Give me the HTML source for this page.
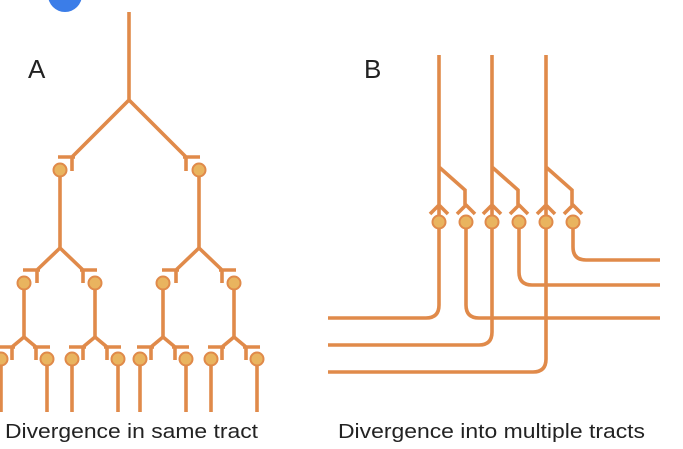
<!DOCTYPE html>
<html><head><meta charset="utf-8"><style>
html,body{margin:0;padding:0;background:#fff;width:683px;height:449px;overflow:hidden}
svg{display:block}
</style></head><body>
<svg width="683" height="449" viewBox="0 0 683 449" xmlns="http://www.w3.org/2000/svg">
<circle cx="65" cy="-5" r="17" fill="#3b7de8"/>
<g font-family="Liberation Sans, sans-serif" fill="#222">
<text x="28" y="78" font-size="26">A</text>
<text x="364" y="78" font-size="26">B</text>
<text x="5" y="438" font-size="20" textLength="253" lengthAdjust="spacingAndGlyphs">Divergence in same tract</text>
<text x="338" y="438" font-size="20" textLength="307" lengthAdjust="spacingAndGlyphs">Divergence into multiple tracts</text>
</g>
<g stroke="#e08a4a" stroke-width="3.6" fill="none" stroke-linecap="butt">
<path d="M129 12V100 M129 100L72 157 M129 100L186 157 M58 157H75 M72 157V171 M183 157H200 M186 157V171 M60 176V248 M199 176V248"/>
<path d="M60 248L37 270 M60 248L83 270 M23 270H40 M37 270V283 M80 270H97 M83 270V283
M199 248L176 270 M199 248L222 270 M162 270H179 M176 270V283 M219 270H236 M222 270V283
M24 289V337 M95 289V337 M163 289V337 M234 289V337"/>
<path d="M24 337L12 347 M24 337L36 347 M-2 347H15 M12 347V360 M33 347H50 M36 347V360
M95 337L83 347 M95 337L107 347 M69 347H86 M83 347V360 M104 347H121 M107 347V360
M163 337L151 347 M163 337L175 347 M137 347H154 M151 347V360 M172 347H189 M175 347V360
M234 337L222 347 M234 337L246 347 M208 347H225 M222 347V360 M243 347H260 M246 347V360
M1 365V412 M47 365V412 M72 365V412 M118 365V412 M140 365V412 M186 365V412 M211 365V412 M257 365V412"/>
<path d="M439 55V305Q439 318 426 318H328
M492 55V332Q492 345 479 345H328
M546 55V359Q546 372 533 372H328
M439 167L465 190V205 M492 167L518 190V205 M546 167L572 190V205
M466 228V305Q466 318 479 318H660
M519 228V272Q519 285 532 285H660
M573 228V247Q573 260 586 260H660
M430 214L439 205L448 214 M457 214L466 205L475 214 M483 214L492 205L501 214
M510 214L519 205L528 214 M537 214L546 205L555 214 M564 214L573 205L582 214"/>
</g>
<g fill="#e9b45f" stroke="#e08a4a" stroke-width="2">
<circle cx="60" cy="170" r="6.5"/><circle cx="199" cy="170" r="6.5"/>
<circle cx="24" cy="283" r="6.5"/><circle cx="95" cy="283" r="6.5"/><circle cx="163" cy="283" r="6.5"/><circle cx="234" cy="283" r="6.5"/>
<circle cx="1" cy="359" r="6.5"/><circle cx="47" cy="359" r="6.5"/><circle cx="72" cy="359" r="6.5"/><circle cx="118" cy="359" r="6.5"/>
<circle cx="140" cy="359" r="6.5"/><circle cx="186" cy="359" r="6.5"/><circle cx="211" cy="359" r="6.5"/><circle cx="257" cy="359" r="6.5"/>
<circle cx="439" cy="222" r="6.5"/><circle cx="466" cy="222" r="6.5"/><circle cx="492" cy="222" r="6.5"/>
<circle cx="519" cy="222" r="6.5"/><circle cx="546" cy="222" r="6.5"/><circle cx="573" cy="222" r="6.5"/>
</g>
</svg>
</body></html>
